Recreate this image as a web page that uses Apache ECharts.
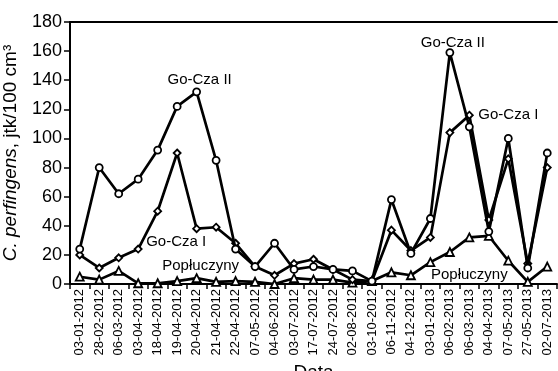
<!DOCTYPE html>
<html>
<head>
<meta charset="utf-8">
<script src="https://cdn.jsdelivr.net/npm/echarts@6/dist/echarts.min.js"></script>
<style>
html,body{margin:0;padding:0;background:#fff;}
#c{width:558px;height:371px;}
</style>
</head>
<body>
<div id="c"></div>
<script>
var categories = ['03-01-2012','28-02-2012','06-03-2012','03-04-2012','18-04-2012','19-04-2012','20-04-2012','21-04-2012','22-04-2012','07-05-2012','04-06-2012','03-07-2012','17-07-2012','24-07-2012','02-08-2012','03-10-2012','06-11-2012','04-12-2012','03-01-2013','06-02-2013','06-03-2013','04-04-2013','07-05-2013','27-05-2013','02-07-2013'];
var goCzaII = [24,80,62,72,92,122,132,85,24,12,28,10,12,10,9,2,58,21,45,159,108,36,100,11,90];
var goCzaI = [20,11,18,24,50,90,38,39,28,12,6,14,17,10,3,2,37,23,32,104,116,44,86,14,80];
var poplu = [5,3,9,0.5,0.5,2,4,1.5,2,1.5,0,4,3,3,1,2,8,6,15,22,32,33,16,1.5,12];
var yTicks = [0,20,40,60,80,100,120,140,160,180];

// annotation anchors: [text, category, value]
var notesII = [['Go-Cza II','20-04-2012',140],['Go-Cza II','06-02-2013',165.5]];
var notesI = [['Go-Cza I','19-04-2012',29],['Go-Cza I','07-05-2013',116]];
var notesP = [['Popłuczyny','20-04-2012',12.4],['Popłuczyny','06-03-2013',6.2]];

var FONT = '"Liberation Sans", Arial, sans-serif';

function marks(list, offs) {
  return {
    symbol: 'circle', symbolSize: 0, silent: true,
    label: {show: true, position: 'inside', color: '#000', fontSize: 15, fontFamily: FONT,
      formatter: function (p) { return p.name; }},
    data: list.map(function (n, i) {
      return {name: n[0], coord: [n[1], n[2]], label: {offset: offs[i]}};
    })
  };
}

function series(name, data, symbol, size, z, mp) {
  return {
    name: name, type: 'line', data: data, symbol: symbol, symbolSize: size, z: z,
    showAllSymbol: true, animation: false,
    lineStyle: {color: '#000', width: 2.7},
    itemStyle: {color: '#fff', borderColor: '#000', borderWidth: 1.8},
    markPoint: mp
  };
}

var chart = echarts.init(document.getElementById('c'));
chart.setOption({
  animation: false,
  textStyle: {fontFamily: FONT},
  grid: {left: 70, right: 1, top: 22, bottom: 87, outerBoundsMode: 'none', containLabel: false},
  xAxis: [{
    type: 'category', data: categories, boundaryGap: true,
    name: 'Data', nameLocation: 'middle', nameGap: 77,
    nameTextStyle: {fontSize: 19, color: '#000', fontFamily: FONT},
    axisLine: {lineStyle: {color: '#000', width: 2}},
    axisTick: {show: true, length: 5, lineStyle: {color: '#000', width: 1.5}},
    axisLabel: {rotate: 90, fontSize: 13, color: '#000', margin: 5, interval: 0, fontFamily: FONT}
  }, {
    type: 'category', data: categories, position: 'top',
    axisLine: {show: true, lineStyle: {color: '#000', width: 2}},
    axisTick: {show: false}, axisLabel: {show: false}
  }],
  yAxis: {
    type: 'value', min: yTicks[0], max: yTicks[yTicks.length - 1], interval: 20,
    name: '{i|C. perfingens}, jtk/100 cm³', nameLocation: 'middle', nameGap: 50,
    nameTextStyle: {fontSize: 19, color: '#000', fontFamily: FONT,
      rich: {i: {fontStyle: 'italic', fontSize: 19, color: '#000', fontFamily: FONT}}},
    axisLine: {show: true, lineStyle: {color: '#000', width: 2}},
    axisTick: {show: true, length: 6, lineStyle: {color: '#000', width: 1.5}},
    axisLabel: {fontSize: 18, color: '#000', margin: 8, fontFamily: FONT},
    splitLine: {show: false}
  },
  series: [
    series('Popłuczyny', poplu, 'triangle', 8, 2, marks(notesP, [[4,0],[0,0]])),
    series('Go-Cza I', goCzaI, 'diamond', 7, 3, marks(notesI, [[-1,0],[0,0]])),
    series('Go-Cza II', goCzaII, 'circle', 7, 4, marks(notesII, [[3,0],[3,0]]))
  ]
});
</script>
</body>
</html>
